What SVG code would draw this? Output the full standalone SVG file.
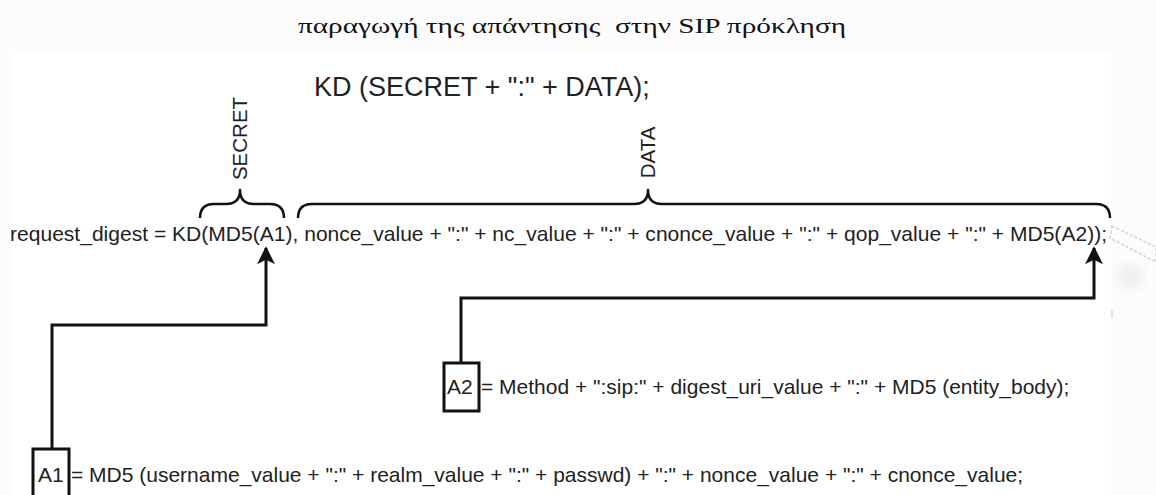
<svg xmlns="http://www.w3.org/2000/svg" width="1156" height="495" viewBox="0 0 1156 495">
  <style>
    .sans { font-family: "Liberation Sans", Arial, sans-serif; fill: #222; }
    .serif { font-family: "Liberation Serif", "Times New Roman", serif; fill: #111; }
    .code { font-size: 21px; }
    .label { font-size: 20.5px; }
    .wire { fill: none; stroke: #111; stroke-width: 3; }
    .brace { fill: none; stroke: #111; stroke-width: 2.5; stroke-linejoin: round; }
    .box { fill: #fff; stroke: #111; stroke-width: 3; }
  </style>
  <defs>
    <marker id="arrow" viewBox="0 0 10 10" refX="9" refY="5" markerWidth="6" markerHeight="6" markerUnits="strokeWidth" orient="auto">
      <path d="M0,0 L10,5 L0,10 L2.5,5 Z" fill="#111"/>
    </marker>
    <filter id="soft"><feGaussianBlur stdDeviation="6"/></filter>
  </defs>

  <!-- page background -->
  <rect x="0" y="0" width="1156" height="495" fill="#fcfcfc"/>
  <rect x="12" y="53" width="1099" height="442" fill="#ffffff"/>
  <ellipse cx="1130" cy="277" rx="14" ry="12" fill="#efefef" filter="url(#soft)"/>
  <polygon points="1112,226 1156,247 1156,262 1110,238" fill="none" stroke="#d2d2d2" stroke-width="1.5" stroke-dasharray="3 2"/>
  <line x1="1112" y1="310" x2="1112" y2="318" stroke="#d8d8d8" stroke-width="1.5"/>

  <!-- heading -->
  <text id="title" class="serif" x="298" y="33" font-size="22" textLength="548" lengthAdjust="spacingAndGlyphs" xml:space="preserve">παραγωγή της απάντησης  στην SIP πρόκληση</text>

  <g id="kd-formula">
    <text class="sans" x="314" y="96" font-size="27">KD (SECRET + ":" + DATA);</text>
  </g>

  <g id="secret">
    <text class="sans label" transform="translate(247,138.5) rotate(-90)" text-anchor="middle">SECRET</text>
    <path class="brace" d="M200,218 Q200,204 214,204 L226,204 Q240,204 240,190 Q240,204 254,204 L270,204 Q284,204 284,218"/>
  </g>

  <g id="data">
    <text class="sans label" transform="translate(655,152.5) rotate(-90)" text-anchor="middle">DATA</text>
    <path class="brace" d="M298,218 Q298,204 312,204 L634,204 Q648,204 648,190 Q648,204 662,204 L1096,204 Q1110,204 1110,218"/>
  </g>

  <g id="request-digest">
    <text class="sans code" x="10" y="241" textLength="1097" lengthAdjust="spacingAndGlyphs">request_digest = KD(MD5(A1), nonce_value + ":" + nc_value + ":" + cnonce_value + ":" + qop_value + ":" + MD5(A2));</text>
  </g>

  <g id="a2">
    <rect class="box" x="444" y="363" width="35" height="48"/>
    <text class="sans code" x="447" y="394">A2</text>
    <text class="sans code" x="481" y="394">= Method + ":sip:" + digest_uri_value + ":" + MD5 (entity_body);</text>
  </g>

  <g id="a1">
    <rect class="box" x="33" y="449" width="36" height="52"/>
    <text class="sans code" x="38" y="482">A1</text>
    <text class="sans code" x="71" y="482">= MD5 (username_value + ":" + realm_value + ":" + passwd) + ":" + nonce_value + ":" + cnonce_value;</text>
  </g>

  <g id="connectors">
    <polyline class="wire" points="52,449 52,325 266,325 266,248" marker-end="url(#arrow)"/>
    <polyline class="wire" points="461,363 461,298 1094,298 1094,248" marker-end="url(#arrow)"/>
  </g>
</svg>
